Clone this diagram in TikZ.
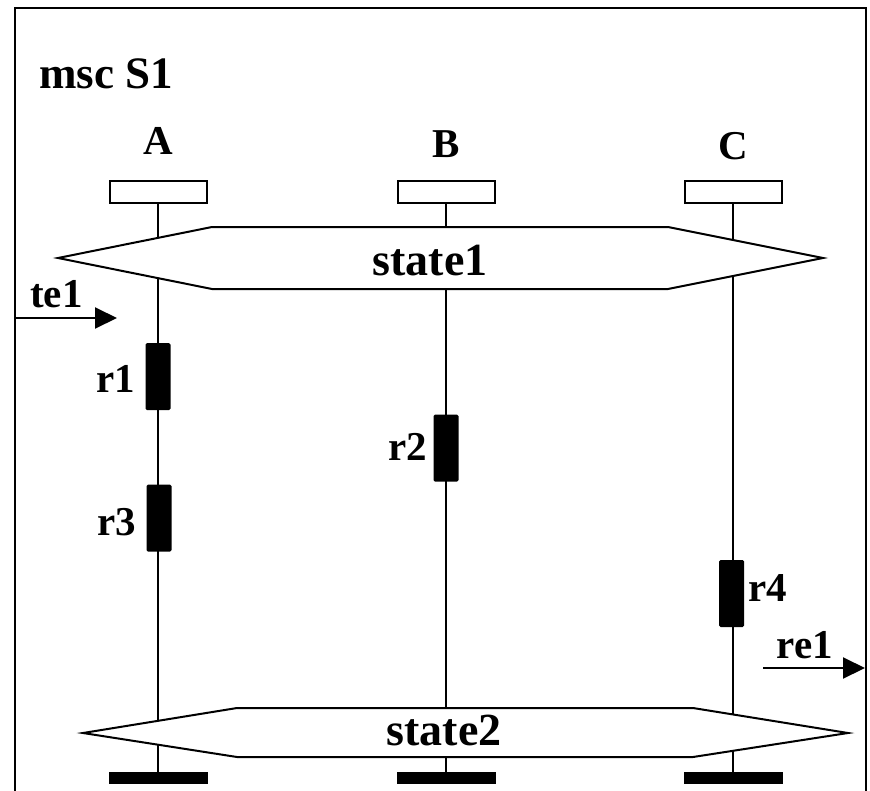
\documentclass[tikz,border=0pt]{standalone}
\usepackage{fontspec}
\setmainfont{Liberation Serif}
\usepackage{tikz}
\usetikzlibrary{arrows.meta}
\usetikzlibrary{positioning}

\tikzset{
  lbl/.style={font=\fontsize{41}{44}\selectfont\bfseries, inner sep=0pt},
  titlelbl/.style={font=\fontsize{45}{48}\selectfont\bfseries, inner sep=0pt},
  statelbl/.style={font=\fontsize{46}{50}\selectfont\bfseries, inner sep=0pt},
  headbox/.style={draw, fill=white, line width=2pt, minimum width=97pt, minimum height=22pt, inner sep=0pt},
  stopbar/.style={fill=black, minimum width=99pt, minimum height=12pt, inner sep=0pt},
  actbox/.style={fill=black, rounded corners=1.5pt, minimum width=25pt, minimum height=67pt, inner sep=0pt},
  condbox/.style={draw, fill=white, line width=2pt, line join=miter},
  sig/.style={line width=2pt, -{Triangle[length=22pt,width=21pt]}}
}

\begin{document}
\begin{tikzpicture}[x=1pt, y=-1pt]
  \useasboundingbox (0,0) rectangle (870,790);
  \draw[line width=2pt] (15,800) -- (15,8) -- (866,8) -- (866,800);
  \node[titlelbl, anchor=base west] (title) at (39,88) {msc S1};

  % instances
  \foreach \n/\x/\b in {A/158/154, B/446/157, C/733/159} {
    \node[lbl, anchor=base] (name\n) at (\x,\b) {\n};
    \node[headbox] (head\n) at (\x,192) {};
    \node[stopbar] (stop\n) at (\x,778) {};
    \draw[line width=1.7pt] (head\n) -- (stop\n);
  }

  % conditions
  \draw[condbox] (58,258) -- (212,227) -- (668,227) -- (823,258) -- (668,289) -- (212,289) -- cycle;
  \node[statelbl, anchor=base] (state1) at (430,275) {state1};
  \draw[condbox] (83,733) -- (237,708) -- (693,708) -- (848,733) -- (693,757) -- (237,757) -- cycle;
  \node[statelbl, anchor=base] (state2) at (444,745) {state2};

  % actions
  \node[actbox] (r1) at (158,376.5) {};
  \node[actbox] (r3) at (159,518) {};
  \node[actbox] (r2) at (446,448) {};
  \node[actbox] (r4) at (731.5,593.5) {};
  \node[lbl, anchor=base east] (r1lbl) at (135,392) {r1};
  \node[lbl, anchor=base east] (r3lbl) at (136,535) {r3};
  \node[lbl, anchor=base east] (r2lbl) at (427,460) {r2};
  \node[lbl, anchor=base west] (r4lbl) at (748,601) {r4};

  % environment signals
  \coordinate (te1from) at (15,318);
  \coordinate (te1to) at (117,318);
  \draw[sig] (te1from) -- (te1to);
  \node[lbl, anchor=base west] (te1) at (30,307) {te1};
  \coordinate (re1from) at (763,668);
  \coordinate (re1to) at (865,668);
  \draw[sig] (re1from) -- (re1to);
  \node[lbl, anchor=base] (re1) at (805,658) {re1};
\end{tikzpicture}
\end{document}
